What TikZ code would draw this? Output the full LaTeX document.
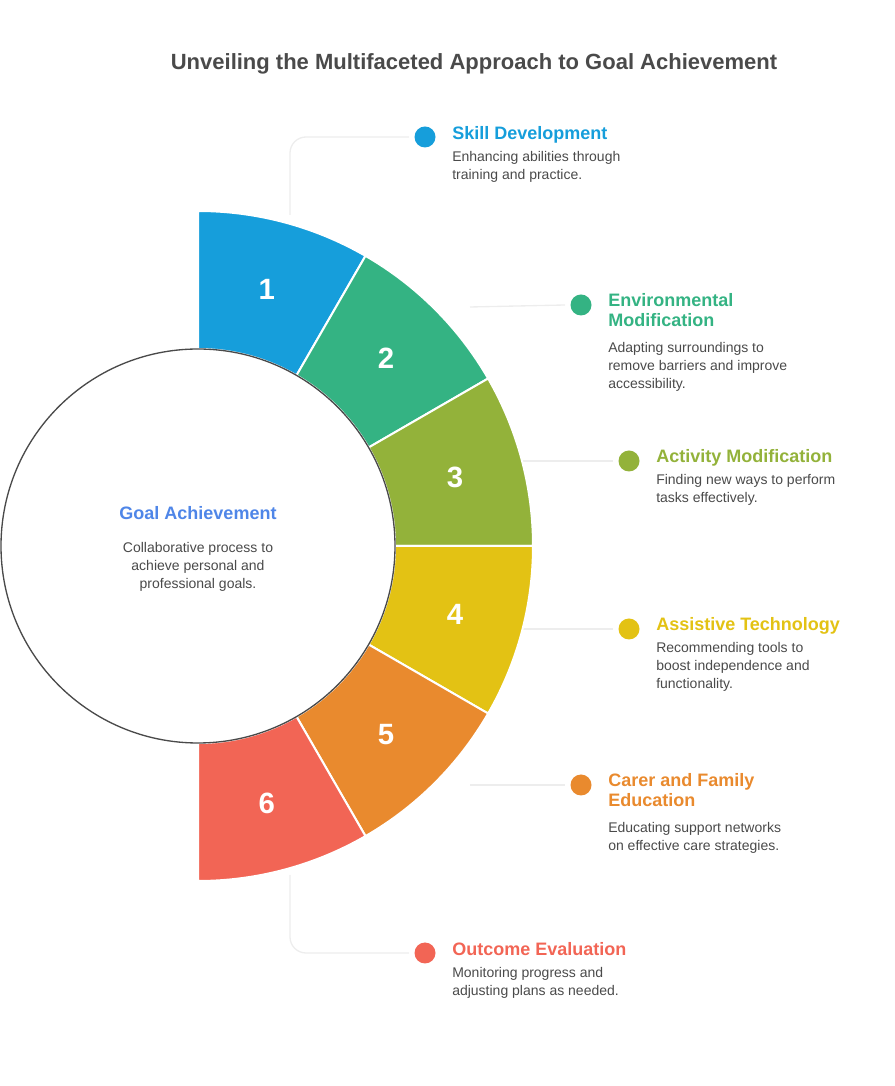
\documentclass[tikz,border=0pt]{standalone}
\usepackage{fontspec}
\setmainfont{Liberation Sans}
\usetikzlibrary{calc}
\definecolor{c1}{HTML}{169EDB}
\definecolor{c2}{HTML}{34B383}
\definecolor{c3}{HTML}{93B23A}
\definecolor{c4}{HTML}{E3C214}
\definecolor{c5}{HTML}{E98A2E}
\definecolor{c6}{HTML}{F26555}
\definecolor{goal}{HTML}{4F86E8}
\definecolor{txt}{HTML}{4A4A4A}
\definecolor{conn}{HTML}{EDEDED}
\begin{document}
\begin{tikzpicture}[x=0.75pt,y=0.75pt,
  head/.style={anchor=north west,font=\fontsize{13.5}{15.5}\selectfont\bfseries,align=left,inner sep=0pt},
  body/.style={anchor=north west,font=\fontsize{10.5}{13.5}\selectfont,text=txt,align=left,inner sep=0pt},
  num/.style={text=white,font=\fontsize{22}{24}\selectfont\bfseries},
  conline/.style={draw=conn,line width=1pt,rounded corners=12pt}]
\useasboundingbox (0,0) rectangle (895,1086);
\coordinate (O) at (198,540);
\foreach \i/\x/\y in {1/425/949,2/581/781,3/629/625,4/629/457,5/581/301,6/425/133}{
  \coordinate (d\i) at (\x,\y);
}
\coordinate (s1) at (290,871);
\coordinate (s6) at (290,211);
\coordinate (s2) at (470,779);
\coordinate (s3) at (520,625);
\coordinate (s4) at (520,457);
\coordinate (s5) at (470,301);
\draw[conline] (s1) |- ([xshift=-12]d1);
\draw[conline] (s6) |- ([xshift=-12]d6);
\foreach \i in {2,3,4,5}{\draw[conline] (s\i) -- ([xshift=-12]d\i);}
\foreach \i/\c in {1/c1,2/c2,3/c3,4/c4,5/c5,6/c6}{
  \pgfmathsetmacro\a{90-30*(\i-1)}
  \pgfmathsetmacro\b{90-30*\i}
  \pgfmathsetmacro\m{75-30*(\i-1)}
  \fill[\c,draw=white,line width=1.5pt] ($(O)+(\a:197)$) arc[start angle=\a,end angle=\b,radius=197] -- ($(O)+(\b:335)$) arc[start angle=\b,end angle=\a,radius=335] -- cycle;
  \node[num] (n\i) at ($(O)+(\m:266)$) {\i};
}
\node[circle,draw=txt,line width=1pt,minimum size=295.5pt,fill=white] (goalc) at (O) {};
\node[font=\fontsize{13.5}{15.5}\selectfont\bfseries,text=goal] (gt) at (198,573) {Goal Achievement};
\node[font=\fontsize{10.5}{13.5}\selectfont,text=txt,align=center,anchor=north] (gd) at (198,548) {Collaborative process to\\achieve personal and\\professional goals.};
\node[font=\fontsize{16.5}{18}\selectfont\bfseries,text=txt] (title) at (474,1022) {Unveiling the Multifaceted Approach to Goal Achievement};
\foreach \i/\c in {1/c1,2/c2,3/c3,4/c4,5/c5,6/c6}{
  \fill[\c] (d\i) circle (10.5);
}
\node[head,text=c1] (h1) at (452,960) {Skill Development};
\node[body] (b1) at (452,935) {Enhancing abilities through\\training and practice.};
\node[head,text=c2] (h2) at (608,793) {Environmental\\Modification};
\node[body] (b2) at (608,744) {Adapting surroundings to\\remove barriers and improve\\accessibility.};
\node[head,text=c3] (h3) at (656,637) {Activity Modification};
\node[body] (b3) at (656,612) {Finding new ways to perform\\tasks effectively.};
\node[head,text=c4] (h4) at (656,469) {Assistive Technology};
\node[body] (b4) at (656,444) {Recommending tools to\\boost independence and\\functionality.};
\node[head,text=c5] (h5) at (608,313) {Carer and Family\\Education};
\node[body] (b5) at (608,264) {Educating support networks\\on effective care strategies.};
\node[head,text=c6] (h6) at (452,144) {Outcome Evaluation};
\node[body] (b6) at (452,119) {Monitoring progress and\\adjusting plans as needed.};
\end{tikzpicture}
\end{document}
